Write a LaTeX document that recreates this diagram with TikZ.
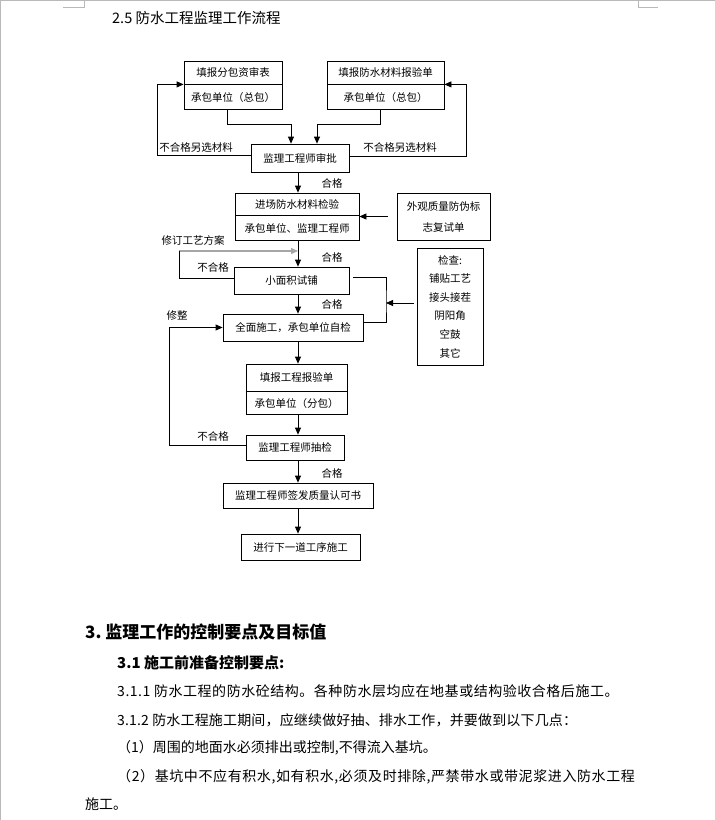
\documentclass[tikz,border=0pt]{standalone}
\usepackage{fontspec}
\newfontfamily\cjk{Noto Sans CJK SC}
\usepackage{tikz}
\usetikzlibrary{positioning, arrows.meta, calc}
\tikzset{
    box/.style={
        rectangle,
        draw=black,
        line width=0.8pt,
        inner sep=0pt,
        align=center,
        font=\cjk\fontsize{10.5}{13}\selectfont
    },
    flow/.style={
        line width=0.8pt,
        -{Triangle[length=7pt,width=6pt]}
    },
    link/.style={
        line width=0.8pt
    },
    note/.style={
        inner sep=0pt,
        font=\cjk\fontsize{10.5}{13}\selectfont
    },
    body/.style={
        anchor=west,
        inner sep=0pt,
        font=\cjk\fontsize{14}{17}\selectfont
    }
}

\begin{document}
\begin{tikzpicture}[x=1pt, y=-1pt,
        edgemark/.style={gray!55, line width=0.6pt}
      ]
      \useasboundingbox (0,0) rectangle (715,820);

      % page edge and corner marks
      \draw[edgemark] (0,0.3) -- (715,0.3);
      \draw[edgemark] (0.3,0) -- (0.3,820);
      \draw[edgemark] (63,7) -- (84,7) -- (84,0);
      \draw[edgemark] (638,0) -- (638,7) -- (658,7);

      \node[body, font=\cjk\fontsize{14.5}{17}\selectfont] (title) at (112,18) {2.5 防水工程监理工作流程};

      \coordinate (mid) at (298,0);

      \node[box, minimum width=98, minimum height=23] (b1t) at (233,72.5) {填报分包资审表};
      \node[box, minimum width=98, minimum height=25, below=0pt of b1t] (b1b) {承包单位（总包）};
      \node[box, minimum width=117, minimum height=23] (b2t) at (385.5,72.5) {填报防水材料报验单};
      \node[box, minimum width=117, minimum height=25, below=0pt of b2t] (b2b) {承包单位（总包）};

      \node[box, minimum width=98, minimum height=28] (sp) at (300,158) {监理工程师审批};

      \node[box, minimum width=124, minimum height=22] (b3t) at (297,204) {进场防水材料检验};
      \node[box, minimum width=124, minimum height=25, below=0pt of b3t] (b3b) {承包单位、监理工程师};
      \node[box, minimum width=93, minimum height=47, font=\cjk\fontsize{10.5}{21}\selectfont] (wg) at (443.5,216.5) {外观质量防伪标\\志复试单};

      \node[box, minimum width=115, minimum height=27] (b4) at (291.5,280.5) {小面积试铺};
      \node[box, minimum width=140, minimum height=27] (b5) at (293,327.5) {全面施工，承包单位自检};
      \node[box, minimum width=66, minimum height=117, font=\cjk\fontsize{10.5}{18.6}\selectfont] (jc) at (450,306.5) {检查:\\铺贴工艺\\接头接茬\\阴阳角\\空鼓\\其它};

      \node[box, minimum width=101, minimum height=27] (b6t) at (296.5,377.5) {填报工程报验单};
      \node[box, minimum width=101, minimum height=23, below=0pt of b6t] (b6b) {承包单位（分包）};
      \node[box, minimum width=98, minimum height=25] (b7) at (295,447.5) {监理工程师抽检};
      \node[box, minimum width=150, minimum height=25] (b8) at (298,495.5) {监理工程师签发质量认可书};
      \node[box, minimum width=119, minimum height=26] (b9) at (300.5,547) {进行下一道工序施工};

      % submissions to the engineer
      \coordinate (j1) at (291,124);
      \coordinate (j2) at (317,124);
      \draw[flow] ([xshift=-6pt]b1b.south) |- (j1) -- (j1 |- sp.north);
      \draw[flow] ([xshift=-5pt]b2b.south) |- (j2) -- (j2 |- sp.north);
      \draw[flow] ([yshift=3pt]sp.west) -- ++(-93,0) |- (b1t.south west);
      \draw[flow] ([yshift=2pt]sp.east) -- ++(117,0) |- (b2t.south east);
      \node[note] (n1) at (196,147) {不合格另选材料};
      \node[note] (n2) at (400,147) {不合格另选材料};

      \draw[flow] (sp.south -| mid) -- (b3t.north -| mid);
      \node[note] (h1) at (332,183) {合格};
      \draw[flow] ([xshift=-9pt]wg.west) -- (wg.west -| b3t.east);

      \draw[flow] (b3b.south -| mid) -- (b4.north -| mid);
      \node[note] (h2) at (332,257) {合格};
      \coordinate (rv) at (179,251);
      \draw[flow, gray!70, line width=1.4pt] (rv) -- (rv -| mid);
      \draw[link] ([yshift=2pt]b4.west) -| (rv);
      \node[note] (n3) at (193,240) {修订工艺方案};
      \node[note] (n4) at (213,267) {不合格};

      \draw[flow] (b4.south -| mid) -- (b5.north -| mid);
      \node[note] (h3) at (332,304) {合格};
      \coordinate (br) at (386,303);
      \draw[link] ([xshift=4pt,yshift=3pt]b4.east) -| (br) |- ([yshift=5pt]b5.east);
      \draw[flow] ([xshift=-3pt]jc.west |- br) -- (br);

      \draw[flow] (b5.south -| mid) -- (b6t.north -| mid);
      \draw[flow] (b6b.south -| mid) -- (b7.north -| mid);
      \draw[flow] ([yshift=2pt]b7.west) -- ++(-76,0) |- (b5.west);
      \node[note] (n5) at (213,436) {不合格};
      \node[note] (n6) at (177,315) {修整};

      \draw[flow] (b7.south -| mid) -- (b8.north -| mid);
      \node[note] (h4) at (332,473) {合格};
      \draw[flow] (b8.south -| mid) -- (b9.north -| mid);

      % text below the chart
      \node[body, font=\cjk\bfseries\fontsize{17}{20}\selectfont] (s3) at (85,632) {3.\ 监理工作的控制要点及目标值};
      \node[body, font=\cjk\bfseries\fontsize{15}{18}\selectfont] (s31) at (117,663) {3.1 施工前准备控制要点:};
      \node[body] (p1) at (117,691) {\addfontfeature{LetterSpace=3.8}3.1.1 防水工程的防水砼结构。各种防水层均应在地基或结构验收合格后施工。};
      \node[body] (p2) at (117,720) {\addfontfeature{LetterSpace=1.2}3.1.2 防水工程施工期间，应继续做好抽、排水工作，并要做到以下几点：};
      \node[body] (p3) at (117,748) {（1）周围的地面水必须排出或控制,不得流入基坑。};
      \node[body] (p4) at (117,777) {\addfontfeature{LetterSpace=4.3}（2）基坑中不应有积水,如有积水,必须及时排除,严禁带水或带泥浆进入防水工程};
      \node[body] (p5) at (85,804) {施工。};

    \end{tikzpicture}
\end{document}
